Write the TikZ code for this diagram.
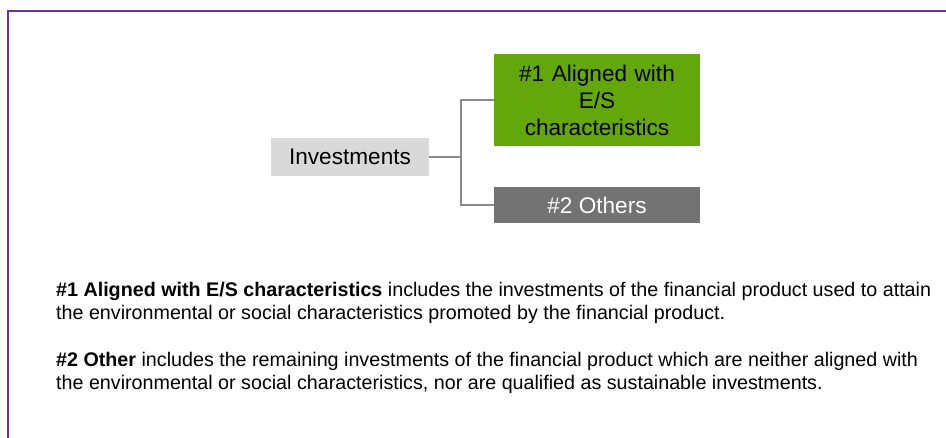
\documentclass[tikz,border=0pt]{standalone}
\usepackage{fontspec}
\setmainfont{Liberation Sans}
\usepackage{tikz}
\usetikzlibrary{positioning}

\definecolor{framepurple}{HTML}{7030A0}
\definecolor{esgreen}{HTML}{63A70A}
\definecolor{boxgray}{HTML}{D9D9D9}
\definecolor{darkgray}{HTML}{737373}
\definecolor{linegray}{HTML}{8C8C8C}

\begin{document}
\begin{tikzpicture}[x=1pt, y=-1pt]
      \tikzstyle{root} = [
        rectangle,
        fill=boxgray,
        minimum width=158pt,
        minimum height=38pt,
        inner sep=0pt,
        font=\fontsize{22.6}{27}\selectfont
      ]

      \tikzstyle{aligned} = [
        rectangle,
        fill=esgreen,
        text width=200pt,
        align=center,
        minimum width=206pt,
        minimum height=92pt,
        inner sep=0pt,
        font=\fontsize{22.6}{27}\selectfont
      ]

      \tikzstyle{other} = [
        rectangle,
        fill=darkgray,
        text=white,
        minimum width=206pt,
        minimum height=36pt,
        inner sep=0pt,
        font=\fontsize{22.6}{27}\selectfont
      ]

      \tikzstyle{branch} = [
        draw=linegray,
        line width=1.5pt
      ]

      \tikzstyle{legend} = [
        anchor=north west,
        align=left,
        inner sep=0pt,
        font=\fontsize{19.7}{22.7}\selectfont
      ]

      \useasboundingbox (0,0) rectangle (946,438);
      \fill[white] (0,0) rectangle (946,438);
      \draw[framepurple, line width=2pt] (8,438) -- (8,11) -- (946,11);

      \node[root] (investments) at (350,157) {Investments};
      \node[aligned] (es) at (597,100) {\#1 Aligned with\\E/S\\characteristics};
      \node[other] (others) at (597,205) {\#2 Others};

      \coordinate (split) at (461,157);
      \draw[branch] (investments) -- (split);
      \draw[branch] (split) |- (es);
      \draw[branch] (split) |- (others);

      \node[legend] (text1) at (56,282.5) {\textbf{\#1 Aligned with E/S characteristics} includes the investments of the financial product used to attain\\
        the environmental or social characteristics promoted by the financial product.};
      \node[legend] (text2) at (56,352.5) {\textbf{\#2 Other} includes the remaining investments of the financial product which are neither aligned with\\
        the environmental or social characteristics, nor are qualified as sustainable investments.};
    \end{tikzpicture}
\end{document}
